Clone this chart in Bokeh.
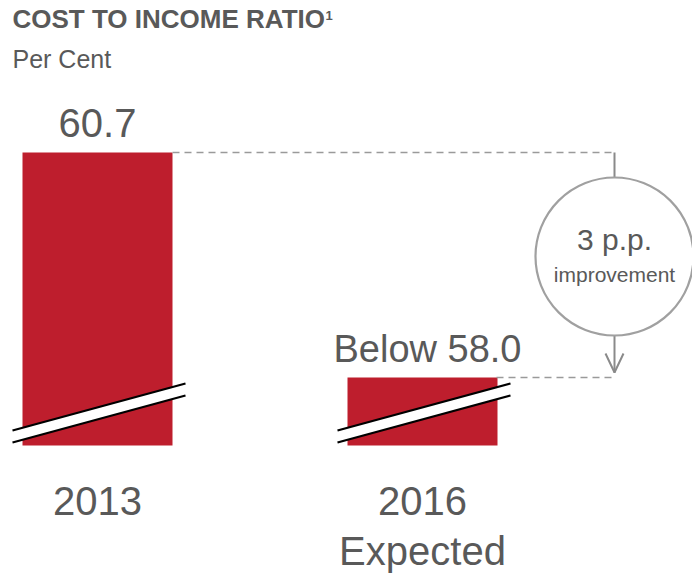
from bokeh.plotting import figure
from bokeh.models import Range1d, Label
from bokeh.core.properties import value
from bokeh.embed import file_html
from bokeh.resources import INLINE

# --- data -------------------------------------------------------------
categories = ["2013", "2016"]
category_subtitles = ["", "Expected"]
ratios = [60.7, 58.0]
value_labels = ["60.7", "Below 58.0"]
improvement_label = "3 p.p."
improvement_caption = "improvement"

# --- layout ------------------------------------------------------------
W, H = 692, 573
FONT = "Liberation Sans"
TEXT_COLOR = "#595959"
BAR_COLOR = "#BE1E2D"
GUIDE_COLOR = "#9a9a9a"

CAT_PX = 325.0          # horizontal distance between bar centres
FIRST_CX = 97.0         # pixel centre of first bar
TOP_PX_HI = 152.0       # pixel (from top) of the taller bar's top
TOP_PX_LO = 377.0       # pixel (from top) of the shorter bar's top
BASE_PX = 445.0         # pixel (from top) where bars are cut off (broken axis)

k = (TOP_PX_LO - TOP_PX_HI) / (max(ratios) - min(ratios))   # px per unit
y_top = max(ratios) + TOP_PX_HI / k
y_bottom = y_top - H / k
base = y_top - BASE_PX / k


def xd(px):
    """pixel column -> data x"""
    return (px - FIRST_CX) / CAT_PX


def yd(py):
    """pixel row (from top) -> data y"""
    return y_top - py / k


p = figure(width=W, height=H, output_backend="svg", toolbar_location=None,
           x_range=Range1d(xd(0), xd(W)), y_range=Range1d(y_bottom, y_top),
           x_axis_type=None, y_axis_type=None, min_border=0,
           outline_line_color=None, background_fill_color="white",
           border_fill_color="white")
p.grid.visible = False

xs = list(range(len(categories)))

# bars, cut at the axis break
p.vbar(x=xs, top=ratios, bottom=base, width=150 / CAT_PX,
       fill_color=BAR_COLOR, line_color=None)

# axis-break markers: white band between two black slanted lines
for i in xs:
    cx = FIRST_CX + i * CAT_PX
    x0, x1 = xd(cx - 85), xd(cx + 88)
    lo0, lo1 = yd(442), yd(395)
    up0, up1 = yd(430), yd(383)
    p.patch([x0, x1, x1, x0], [up0, up1, lo1, lo0],
            fill_color="white", line_color=None)
    p.line([x0, x1], [lo0, lo1], line_color="black", line_width=2.2)
    p.line([x0, x1], [up0, up1], line_color="black", line_width=2.2)

# guide lines from bar tops to the improvement marker
gx = xd(614)
p.line([xd(172), gx], [ratios[0], ratios[0]], line_color=GUIDE_COLOR,
       line_width=1.6, line_dash="7 5")
p.line([xd(496), gx], [ratios[1], ratios[1]], line_color=GUIDE_COLOR,
       line_width=1.6, line_dash="7 5")

# vertical connector with open arrow head
tip = yd(372)
p.line([gx, gx], [ratios[0], tip], line_color="#8a8a8a", line_width=2)
p.line([xd(605), gx, xd(623)], [yd(353), tip, yd(353)],
       line_color="#8a8a8a", line_width=2)

# improvement bubble
cy = yd(256)
p.scatter(x=[gx], y=[cy], size=158, marker="circle", fill_color="white",
          line_color="#a0a0a0", line_width=2.2)
p.text(x=[gx], y=[cy], text=[improvement_label], text_align="center",
       text_baseline="alphabetic", y_offset=-17, text_font=value(FONT),
       text_font_size="30px", text_color=TEXT_COLOR)
p.text(x=[gx], y=[cy], text=[improvement_caption], text_align="center",
       text_baseline="alphabetic", y_offset=18, text_font=value(FONT),
       text_font_size="21px", text_color=TEXT_COLOR)

# value labels above bars
p.text(x=xs, y=ratios, text=value_labels, text_align="center",
       text_baseline="alphabetic", x_offset=[0, 5], y_offset=[-30, -29],
       text_font=value(FONT), text_font_size=["40px", "38px"],
       text_color=TEXT_COLOR)

# category labels below bars
p.text(x=xs, y=[base] * len(xs), text=categories, text_align="center",
       text_baseline="alphabetic", y_offset=55, text_font=value(FONT),
       text_font_size="40px", text_color=TEXT_COLOR)
p.text(x=xs, y=[base] * len(xs), text=category_subtitles, text_align="center",
       text_baseline="alphabetic", y_offset=105, text_font=value(FONT),
       text_font_size="40px", text_color=TEXT_COLOR)

# heading
p.add_layout(Label(x=12, y=H - 18, x_units="screen", y_units="screen",
                   text="COST TO INCOME RATIO", text_font=FONT,
                   text_font_size="26px", text_font_style="bold",
                   text_color=TEXT_COLOR, text_baseline="alphabetic"))
p.add_layout(Label(x=325, y=H - 15, x_units="screen", y_units="screen",
                   text="1", text_font=FONT, text_font_size="13px",
                   text_font_style="bold", text_color=TEXT_COLOR,
                   text_baseline="alphabetic"))
p.add_layout(Label(x=12, y=H - 58, x_units="screen", y_units="screen",
                   text="Per Cent", text_font=FONT, text_font_size="25px",
                   text_color=TEXT_COLOR, text_baseline="alphabetic"))

open("out.html", "w").write(file_html(p, INLINE))
